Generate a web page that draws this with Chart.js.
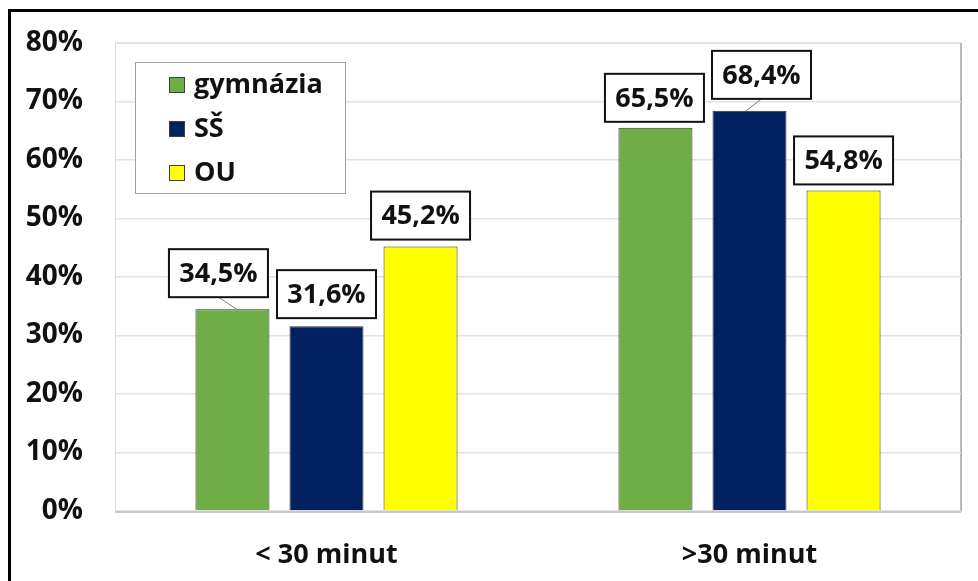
<!DOCTYPE html>
<html>
<head>
<meta charset="utf-8">
<script src="https://cdn.jsdelivr.net/npm/chart.js@4.4.0/dist/chart.umd.min.js"></script>
<style>
  html, body { margin: 0; padding: 0; background: #fff; }
  #wrap { width: 978px; height: 581px; }
</style>
</head>
<body>
<div id="wrap"><canvas id="c" width="978" height="581"></canvas></div>
<script>
// data
const categories = ['< 30 minut', '>30 minut'];
const seriesNames = ['gymnázia', 'SŠ', 'OU'];
const gymnazia = [34.5, 65.5];
const ss = [31.6, 68.4];
const ou = [45.2, 54.8];
const yTicks = [0, 10, 20, 30, 40, 50, 60, 70, 80];

const colors = ['#70ad47', '#002060', '#ffff00'];
// label box nudges [dataset][index] -> [dx, gap above bar]
const labelNudge = [
  [[-14, 12], [-1, 6]],
  [[0, 8], [12, 12]],
  [[0, 7], [0, 6]]
];

function fmt(v) {
  return v.toFixed(1).replace('.', ',') + '%';
}

const frame = {
  id: 'frame',
  beforeDraw(chart) {
    const ctx = chart.ctx;
    const a = chart.chartArea;
    ctx.save();
    ctx.fillStyle = '#fff';
    ctx.fillRect(0, 0, chart.width, chart.height);
    // outer black frame (runs off right/bottom edge)
    ctx.strokeStyle = '#000';
    ctx.lineWidth = 3;
    ctx.strokeRect(9.5, 10.5, 1000, 700);
    // plot area box
    ctx.strokeStyle = '#d9d9d9';
    ctx.lineWidth = 1;
    ctx.strokeRect(a.left + 0.5, a.top + 0.5, a.right - a.left, a.bottom - a.top);
    ctx.strokeStyle = '#a6a6a6';
    ctx.lineWidth = 1.5;
    ctx.beginPath();
    ctx.moveTo(a.right, a.top);
    ctx.lineTo(a.right, a.bottom);
    ctx.stroke();
    ctx.restore();
  },
  afterDatasetsDraw(chart) {
    const ctx = chart.ctx;
    const a = chart.chartArea;
    ctx.save();
    // bottom axis line
    ctx.strokeStyle = '#c8c8c8';
    ctx.lineWidth = 2;
    ctx.beginPath();
    ctx.moveTo(a.left, a.bottom + 1);
    ctx.lineTo(a.right, a.bottom + 1);
    ctx.stroke();

    // value labels
    ctx.font = 'bold 27px "Open Sans"';
    ctx.textAlign = 'center';
    ctx.textBaseline = 'middle';
    chart.data.datasets.forEach((ds, di) => {
      const meta = chart.getDatasetMeta(di);
      meta.data.forEach((bar, i) => {
        const txt = fmt(ds.data[i]);
        const [dx, gap] = labelNudge[di][i];
        const w = 99, h = 48;
        const cx = bar.x + dx;
        const bottom = bar.y - gap;
        const top = bottom - h;
        if (Math.abs(dx) > 4) {
          ctx.strokeStyle = '#808080';
          ctx.lineWidth = 1;
          ctx.beginPath();
          ctx.moveTo(cx, bottom);
          ctx.lineTo(bar.x - dx * 0.3, bar.y);
          ctx.stroke();
        }
        ctx.fillStyle = '#fff';
        ctx.fillRect(cx - w / 2, top, w, h);
        ctx.strokeStyle = '#111';
        ctx.lineWidth = 2;
        ctx.strokeRect(cx - w / 2, top, w, h);
        ctx.fillStyle = '#111';
        ctx.fillText(txt, cx, top + h / 2 + 1);
      });
    });

    // legend
    const lx = 135.5, ly = 62.5, lw = 210, lh = 131;
    ctx.fillStyle = '#fff';
    ctx.fillRect(lx, ly, lw, lh);
    ctx.strokeStyle = '#a0a0a0';
    ctx.lineWidth = 1;
    ctx.strokeRect(lx, ly, lw, lh);
    ctx.textAlign = 'left';
    chart.data.datasets.forEach((ds, di) => {
      const cy = 85 + di * 44;
      ctx.fillStyle = ds.backgroundColor;
      ctx.fillRect(169, cy - 8, 16, 16);
      ctx.strokeStyle = '#404040';
      ctx.lineWidth = 1;
      ctx.strokeRect(169.5, cy - 7.5, 15, 15);
      ctx.fillStyle = '#111';
      ctx.fillText(ds.label, 194, cy);
    });
    ctx.restore();
  }
};

new Chart(document.getElementById('c'), {
  type: 'bar',
  data: {
    labels: categories,
    datasets: [
      { label: seriesNames[0], data: gymnazia, backgroundColor: colors[0] },
      { label: seriesNames[1], data: ss, backgroundColor: colors[1] },
      { label: seriesNames[2], data: ou, backgroundColor: colors[2] }
    ].map(d => Object.assign(d, {
      borderColor: '#333',
      borderWidth: 1,
      borderSkipped: 'bottom',
      categoryPercentage: 0.667,
      barPercentage: 0.787
    }))
  },
  options: {
    responsive: false,
    animation: false,
    layout: { padding: { top: 43, right: 17, left: 0, bottom: 0 } },
    plugins: {
      legend: { display: false },
      tooltip: { enabled: false }
    },
    scales: {
      x: {
        grid: { display: false, drawTicks: false },
        border: { display: false },
        ticks: {
          padding: 28,
          color: '#111',
          font: { family: '"Open Sans"', size: 27, weight: 'bold' }
        },
        afterFit(scale) { scale.height = 70; }
      },
      y: {
        min: 0,
        max: 80,
        afterBuildTicks(scale) { scale.ticks = yTicks.map(v => ({ value: v })); },
        grid: { color: '#e3e3e3', lineWidth: 1.5, drawTicks: false },
        border: { display: false },
        ticks: {
          padding: 32,
          color: '#111',
          font: { family: '"Open Sans"', size: 28, weight: 'bold' },
          callback: v => v + '%'
        },
        afterFit(scale) {
          scale.width = 115;
          scale.paddingTop = 0;
          scale.paddingBottom = 0;
        }
      }
    }
  },
  plugins: [frame]
});
</script>
</body>
</html>
